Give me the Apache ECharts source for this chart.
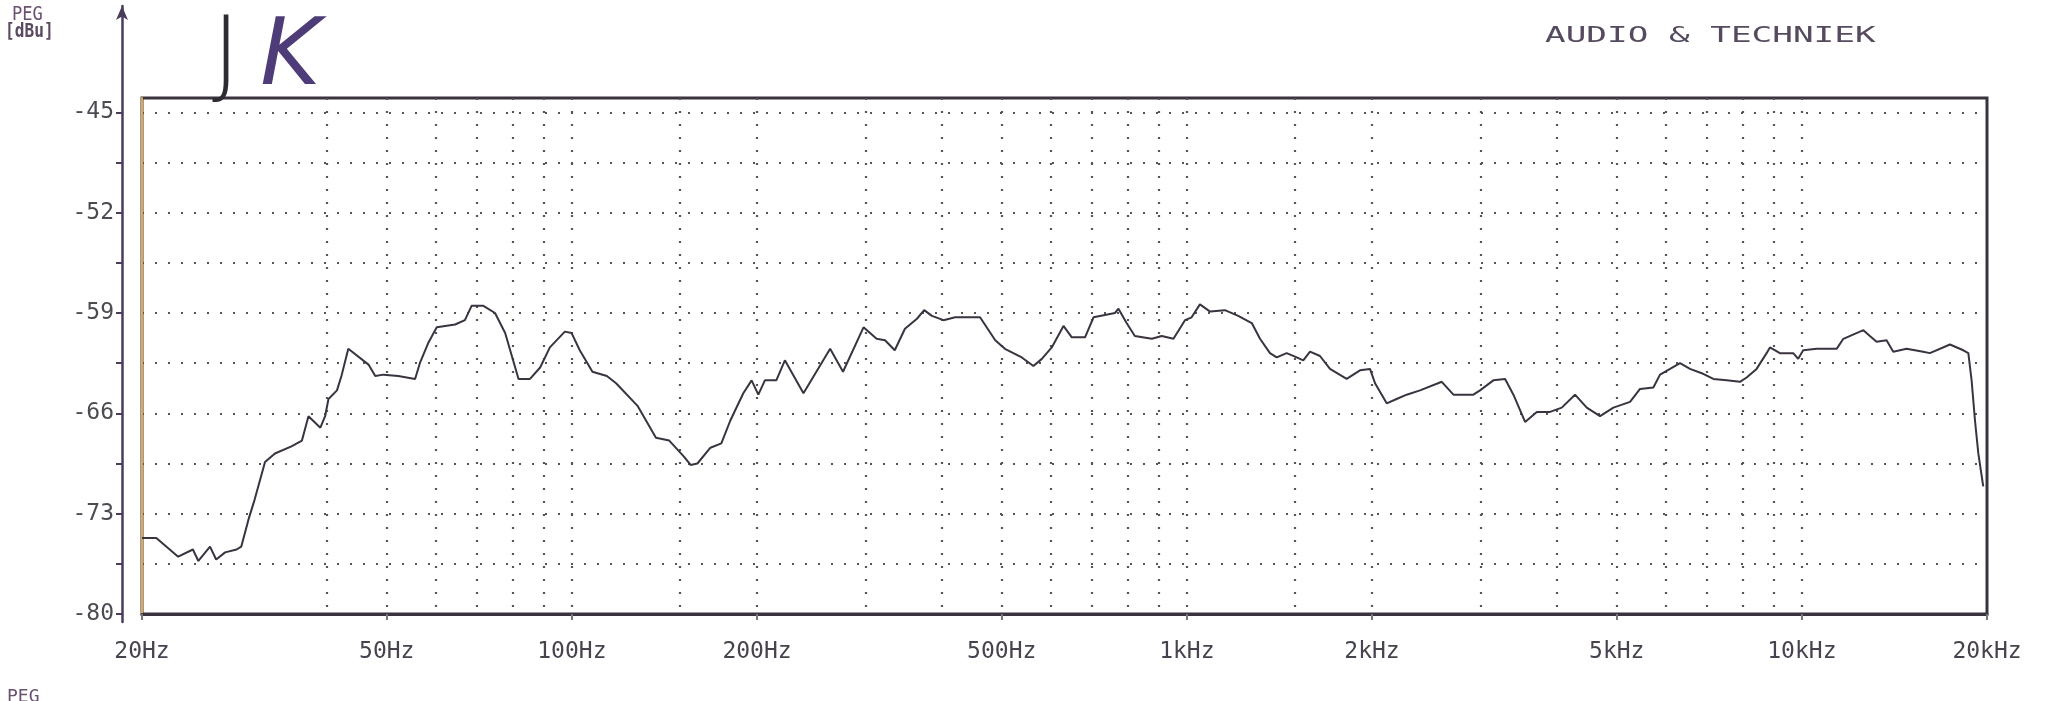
<!DOCTYPE html>
<html>
<head>
<meta charset="utf-8">
<script src="https://cdn.jsdelivr.net/npm/echarts@6/dist/echarts.min.js"></script>
<style>
html,body{margin:0;padding:0;background:#ffffff;}
#chart{width:2053px;height:701px;}
</style>
</head>
<body>
<div id="chart"></div>
<script>
// ---- data ----
const freqHz = [
  20, 21.1, 22.9, 24.2, 24.7, 25.8, 26.4, 27.3, 28.5, 29.0,
  29.8, 30.5, 31.7, 32.9, 35.0, 36.4, 37.3, 39.0, 39.7, 40.2,
  41.5, 42.2, 43.3, 46.7, 47.9, 49.4, 52.2, 55.6, 56.6, 58.4,
  60.3, 64.6, 67.0, 68.7, 71.8, 75.0, 77.9, 81.9, 85.5, 88.8,
  92.1, 97.4, 99.9, 103, 108, 114, 118, 128, 137, 144,
  152, 156, 160, 168, 175, 181, 190, 196, 201, 206,
  215, 222, 238, 263, 276, 298, 313, 323, 335, 348,
  364, 374, 385, 402, 420, 461, 488, 506, 539, 563,
  581, 603, 630, 650, 683, 705, 764, 774, 798, 823,
  877, 910, 951, 993, 1018, 1050, 1091, 1153, 1212, 1275,
  1315, 1365, 1400, 1453, 1509, 1546, 1586, 1646, 1709, 1819,
  1912, 1985, 2023, 2113, 2193, 2277, 2394, 2597, 2713, 2923,
  2997, 3150, 3292, 3396, 3548, 3707, 3896, 4070, 4277, 4469,
  4697, 4938, 5256, 5456, 5735, 5880, 6105, 6337, 6578, 6873,
  7179, 7546, 7931, 8132, 8441, 8763, 8873, 9210, 9681, 9864,
  10050, 10570, 11390, 11680, 12590, 12900, 13230, 13730, 14080, 14800,
  15750, 16150, 17410, 18300, 18650, 18880, 19120, 19360, 19720
];
const levelDbu = [
  -74.7, -74.7, -76.0, -75.5, -76.3, -75.3, -76.2, -75.7, -75.5, -75.3,
  -73.4, -72.0, -69.4, -68.8, -68.3, -67.9, -66.2, -67.0, -66.2, -65.0,
  -64.4, -63.4, -61.5, -62.6, -63.4, -63.3, -63.4, -63.6, -62.5, -61.1,
  -60.0, -59.8, -59.5, -58.5, -58.5, -59.0, -60.4, -63.6, -63.6, -62.8,
  -61.4, -60.3, -60.4, -61.6, -63.1, -63.4, -63.9, -65.5, -67.7, -67.9,
  -69.0, -69.6, -69.5, -68.4, -68.1, -66.5, -64.6, -63.7, -64.7, -63.7,
  -63.7, -62.3, -64.6, -61.5, -63.1, -60.0, -60.8, -60.9, -61.6, -60.1,
  -59.4, -58.8, -59.2, -59.5, -59.3, -59.3, -60.9, -61.5, -62.1, -62.7,
  -62.2, -61.4, -59.9, -60.7, -60.7, -59.3, -59.0, -58.7, -59.7, -60.6,
  -60.8, -60.6, -60.8, -59.5, -59.3, -58.4, -58.9, -58.8, -59.2, -59.7,
  -60.8, -61.8, -62.1, -61.8, -62.1, -62.3, -61.7, -62.0, -62.9, -63.6,
  -63.0, -62.9, -63.9, -65.3, -65.0, -64.7, -64.4, -63.8, -64.7, -64.7,
  -64.4, -63.7, -63.6, -64.7, -66.6, -65.9, -65.9, -65.6, -64.7, -65.6,
  -66.2, -65.6, -65.2, -64.3, -64.2, -63.3, -62.9, -62.5, -62.9, -63.2,
  -63.6, -63.7, -63.8, -63.5, -62.9, -61.8, -61.4, -61.8, -61.8, -62.2,
  -61.6, -61.5, -61.5, -60.8, -60.2, -60.6, -61.0, -60.9, -61.7, -61.5,
  -61.7, -61.8, -61.2, -61.6, -61.8, -63.7, -66.5, -68.8, -71.1
];
const freqLabelValues = [20, 50, 100, 200, 500, 1000, 2000, 5000, 10000, 20000];
const freqLabelTexts = ['20Hz', '50Hz', '100Hz', '200Hz', '500Hz', '1kHz', '2kHz', '5kHz', '10kHz', '20kHz'];
const freqGridValues = [30, 40, 50, 60, 70, 80, 90, 100, 150, 200, 300, 400, 500, 600, 700, 800, 900,
  1000, 1500, 2000, 3000, 4000, 5000, 6000, 7000, 8000, 9000, 10000, 15000];
const levelTickValues = [-80, -76.5, -73, -69.5, -66, -62.5, -59, -55.5, -52, -48.5, -45];
const levelLabelValues = [-80, -73, -66, -59, -52, -45];

// ---- chart ----
const chart = echarts.init(document.getElementById('chart'), null, {renderer: 'canvas'});
const ink = '#39323f';
const dotGrid = {type: [2, 11], color: '#555', width: 2.2};
const printFont = 'DejaVu Sans Mono';

const option = {
  backgroundColor: '#ffffff',
  animation: false,
  grid: [
    {left: 142, top: 98, width: 1845, height: 516, show: true, borderColor: ink, borderWidth: 3, backgroundColor: 'transparent'},
    {left: 142, top: 6, width: 1845, height: 616, show: false}
  ],
  xAxis: [
    {
      gridIndex: 0, type: 'log', logBase: 10, min: 20, max: 20000,
      axisLine: {show: true, onZero: false, lineStyle: {color: ink, width: 3}},
      axisTick: {show: true, customValues: freqLabelValues, length: 6, lineStyle: {color: '#777', width: 2}},
      axisLabel: {
        customValues: freqLabelValues,
        formatter: function (v) {
          const i = freqLabelValues.findIndex(function (f) { return Math.abs(f - v) / f < 1e-6; });
          return i >= 0 ? freqLabelTexts[i] : '';
        },
        margin: 27, fontFamily: printFont, fontSize: 23, color: '#48424f'
      },
      splitLine: {show: false}, minorTick: {show: false}, minorSplitLine: {show: false}
    },
    {
      gridIndex: 0, type: 'log', logBase: 10, min: 20, max: 20000, position: 'bottom',
      axisLine: {show: false, onZero: false},
      axisTick: {show: false, customValues: freqGridValues},
      axisLabel: {show: false},
      splitLine: {show: true, showMinLine: false, showMaxLine: false, lineStyle: dotGrid}
    },
    {gridIndex: 1, type: 'value', min: 0, max: 1, show: false}
  ],
  yAxis: [
    {
      gridIndex: 0, type: 'value', min: -80, max: -44, interval: 3.5,
      axisLine: {show: true, onZero: false, lineStyle: {color: '#efb65a', width: 1.8}},
      axisTick: {show: false}, axisLabel: {show: false},
      splitLine: {show: true, showMinLine: false, showMaxLine: false, lineStyle: dotGrid}
    },
    {
      gridIndex: 1, type: 'value', min: -80.558, max: -37.581, position: 'left', offset: 20,
      axisLine: {show: true, onZero: false, symbol: ['none', 'arrow'], symbolSize: [9, 14], lineStyle: {color: '#4a3d5c', width: 2.5}},
      axisTick: {show: true, customValues: levelTickValues, length: 6, lineStyle: {color: '#4a3d5c', width: 2}},
      axisLabel: {
        customValues: levelLabelValues,
        formatter: function (v) { return String(v); },
        fontFamily: printFont, fontSize: 23, color: '#4e4a52', margin: 8
      },
      splitLine: {show: false}
    }
  ],
  series: [
    {
      type: 'line', xAxisIndex: 0, yAxisIndex: 0,
      showSymbol: false, symbol: 'none',
      lineStyle: {color: '#3a3340', width: 2},
      data: freqHz.map(function (f, i) { return [f, levelDbu[i]]; })
    }
  ],
  graphic: [
    {type: 'text', x: 12, y: 6, scaleX: 0.9, style: {text: 'PEG', font: '19px "DejaVu Sans Mono"', fill: '#6a5072'}},
    {type: 'text', x: 5, y: 23, scaleX: 0.85, style: {text: '[dBu]', font: 'bold 19px "DejaVu Sans Mono"', fill: '#5a4a60'}},
    {type: 'text', x: 212, y: 12, style: {
      text: '{j|J}{k|K}',
      rich: {
        j: {font: '200 96px "DejaVu Sans"', fill: '#2f2b33', padding: [0, 20, 0, 0]},
        k: {font: 'italic 200 92px "DejaVu Sans"', fill: '#4d3c78'}
      }
    }},
    {type: 'text', x: 1545, y: 25, scaleX: 1.56, style: {text: 'AUDIO & TECHNIEK', font: '22px "DejaVu Sans Mono"', fill: '#554a5e'}},
    {type: 'text', x: 7, y: 688, style: {text: 'PEG', font: '18px "DejaVu Sans Mono"', fill: '#6a5072'}}
  ]
};
chart.setOption(option);
</script>
</body>
</html>
